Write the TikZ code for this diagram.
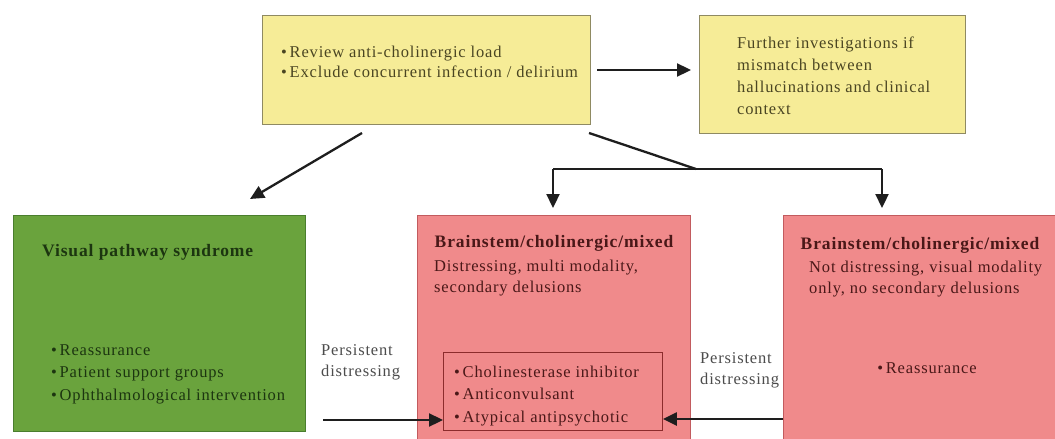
\documentclass[tikz,border=0pt]{standalone}
\usepackage{fontspec}
\setmainfont{Liberation Serif}[LetterSpace=5]
\usetikzlibrary{arrows.meta,positioning}
\definecolor{yfill}{HTML}{F6EC97}
\definecolor{ydraw}{HTML}{8F8A62}
\definecolor{ytext}{HTML}{4A4522}
\definecolor{gfill}{HTML}{6AA33D}
\definecolor{gdraw}{HTML}{4A7E2E}
\definecolor{gtext}{HTML}{1C3510}
\definecolor{pfill}{HTML}{F08A8B}
\definecolor{pdraw}{HTML}{C25B5E}
\definecolor{ptext}{HTML}{4A1818}
\definecolor{idraw}{HTML}{8C2C2C}
\definecolor{arrcol}{HTML}{1E1E1E}
\tikzset{
  box/.style={draw, line width=1.2pt, rectangle, inner sep=0pt, anchor=north west},
  ybox/.style={box, fill=yfill, draw=ydraw},
  gbox/.style={box, fill=gfill, draw=gdraw},
  pbox/.style={box, fill=pfill, draw=pdraw},
  ibox/.style={box, draw=idraw, line width=0.9pt},
  txt/.style={inner sep=0pt, align=left, font=\fontsize{16.5}{21}\selectfont},
  ttl/.style={inner sep=0pt, font=\fontsize{17.5}{20}\selectfont\bfseries},
  arr/.style={draw=arrcol, line width=2.3pt, -{Triangle[length=14pt,width=13pt]}},
  ln/.style={draw=arrcol, line width=2.3pt},
}
\begin{document}
\begin{tikzpicture}[x=1pt,y=-1pt]
\useasboundingbox (0,0) rectangle (1055,439);
\clip (0,0) rectangle (1055,439);
\fill[white] (0,0) rectangle (1055,439);
% boxes
\node[ybox, minimum width=328pt, minimum height=109pt] (top) at (262,15) {};
\node[ybox, minimum width=266pt, minimum height=118pt] (further) at (699,15) {};
\node[gbox, minimum width=292pt, minimum height=216pt] (green) at (13,215) {};
\node[pbox, minimum width=273pt, minimum height=240pt] (mid) at (417,215) {};
\node[pbox, minimum width=290pt, minimum height=240pt] (right) at (783,215) {};
\node[ibox, minimum width=219pt, minimum height=78pt] (inner) at (443,352) {};
% texts
\node[txt, text=ytext, anchor=west, font=\fontsize{16.5}{20}\selectfont] (toptxt) at (281,62)
  {•\,Review anti-cholinergic load\\ •\,Exclude concurrent infection / delirium};
\node[txt, text=ytext, anchor=west, font=\fontsize{16.5}{22}\selectfont] (furthertxt) at (737,76)
  {Further investigations if\\ mismatch between\\ hallucinations and clinical\\ context};
\node[ttl, text=gtext, anchor=west] (gtitle) at (42,252) {Visual pathway syndrome};
\node[txt, text=gtext, anchor=west, font=\fontsize{16.5}{22.5}\selectfont] (gbul) at (51,374)
  {•\,Reassurance\\ •\,Patient support groups\\ •\,Ophthalmological intervention};
\node[ttl, text=ptext] (mtitle) at (554,243) {Brainstem/cholinergic/mixed};
\node[txt, text=ptext, anchor=west] (msub) at (434,278)
  {Distressing, multi modality,\\ secondary delusions};
\node[txt, text=ptext, anchor=west, font=\fontsize{16.5}{22.5}\selectfont] (ibul) at (454,396)
  {•\,Cholinesterase inhibitor\\ •\,Anticonvulsant\\ •\,Atypical antipsychotic};
\node[ttl, text=ptext] (rtitle) at (920,245) {Brainstem/cholinergic/mixed};
\node[txt, text=ptext, anchor=west] (rsub) at (809,279)
  {Not distressing, visual modality\\ only, no secondary delusions};
\node[txt, text=ptext] (rbul) at (927,368) {•\,Reassurance};
\node[txt, text=black!70, anchor=west] (pl) at (321,362) {Persistent\\ distressing};
\node[txt, text=black!70, anchor=west] (pr) at (700,370) {Persistent\\ distressing};
% connector coordinates
\coordinate (a1) at (597,70);
\coordinate (a2) at (691,70);
\coordinate (d1) at (362,133);
\coordinate (d2) at (250,199);
\coordinate (s1) at (589,133);
\coordinate (s2) at (696,169);
\coordinate (h1) at (553,169);
\coordinate (h2) at (882,169);
\coordinate (t1) at (553,208);
\coordinate (t2) at (882,208);
\coordinate (l1) at (323,420);
\coordinate (r1) at (783,419);
% connectors
\draw[arr] (a1) -- (a2);
\draw[arr] (d1) -- (d2);
\draw[ln] (s1) -- (s2);
\draw[arr] (h1 |- s2) -- (t1);
\draw[ln] (h1) -- (h2);
\draw[arr] (h2) -- (t2);
\draw[arr] (l1) -- (l1 -| inner.west);
\draw[arr] (r1) -- (r1 -| inner.east);
\end{tikzpicture}
\end{document}
